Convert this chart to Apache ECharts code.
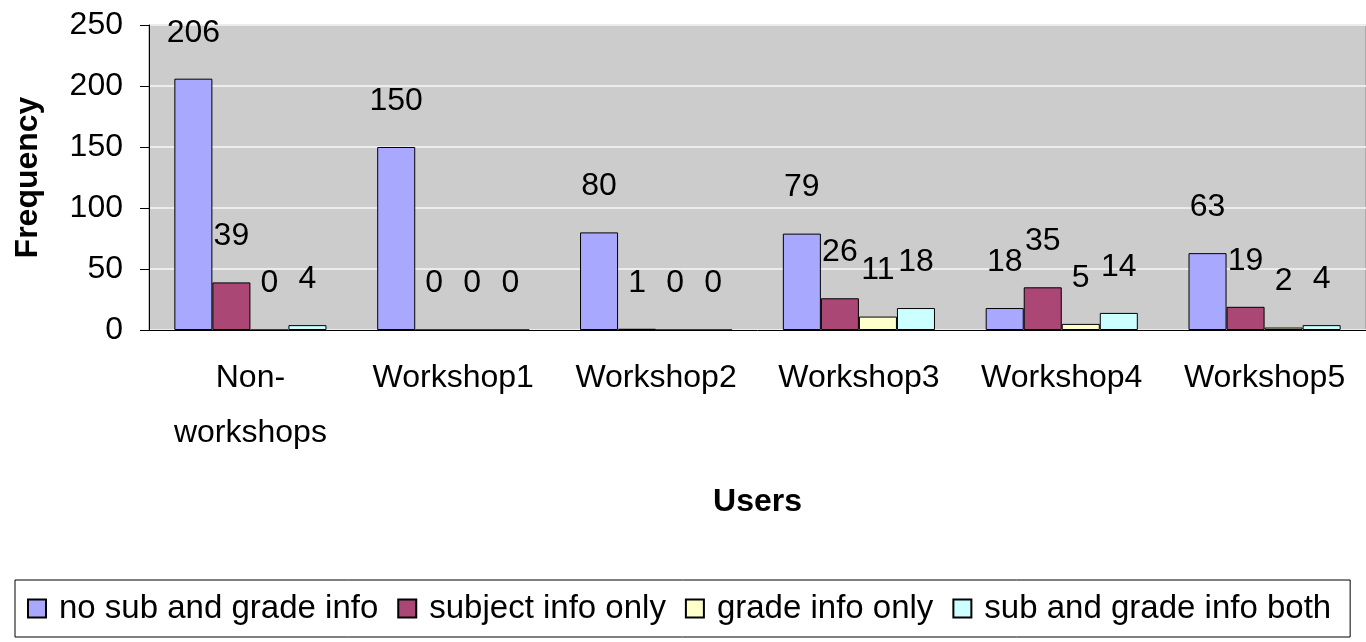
<!DOCTYPE html>
<html>
<head>
<meta charset="utf-8">
<style>
  html, body { margin: 0; padding: 0; background: #fff; }
  #main { width: 1366px; height: 642px; }
</style>
<script src="https://cdn.jsdelivr.net/npm/echarts@6/dist/echarts.min.js"></script>
</head>
<body>
<div id="main"></div>
<script>
var categories = ['Non-\nworkshops', 'Workshop1', 'Workshop2', 'Workshop3', 'Workshop4', 'Workshop5'];
var seriesNames = ['no sub and grade info', 'subject info only', 'grade info only', 'sub and grade info both'];
var noSubGrade = [206, 150, 80, 79, 18, 63];
var subjectOnly = [39, 0, 1, 26, 35, 19];
var gradeOnly = [0, 0, 0, 11, 5, 2];
var subAndGrade = [4, 0, 0, 18, 14, 4];
var yTicks = [0, 250, 50];   // min, max, interval

var colors = ['#a8a8ff', '#aa4775', '#ffffcc', '#ccffff'];
var font = "'Liberation Sans', Arial, sans-serif";

var chartDom = document.getElementById('main');
var myChart = echarts.init(chartDom);

function makeSeries(name, data) {
    return {
        name: name,
        type: 'bar',
        barGap: 0,
        barCategoryGap: '25%',
        itemStyle: { borderColor: '#000', borderWidth: 1 },
        label: {
            show: true,
            position: 'top',
            distance: 30,
            color: '#000',
            fontFamily: font,
            fontSize: 32
        },
        data: data
    };
}

var option = {
    animation: false,
    color: colors,
    textStyle: { fontFamily: font },
    grid: {
        left: 149,
        right: -6,
        top: 25,
        bottom: 312,
        show: true,
        backgroundColor: '#cccccc',
        borderColor: '#8c8c8c',
        borderWidth: 1
    },
    legend: {
        left: 15,
        top: 580,
        padding: [12, 19, 12, 12],
        itemGap: 19,
        icon: 'rect',
        itemWidth: 18,
        itemHeight: 18,
        borderColor: '#000',
        borderWidth: 1,
        textStyle: {
            fontFamily: font,
            fontSize: 33,
            color: '#000',
            padding: [0, 0, 0, 8]
        },
        data: seriesNames
    },
    xAxis: {
        type: 'category',
        data: categories,
        name: 'Users',
        nameLocation: 'middle',
        nameGap: 156,
        nameTextStyle: { fontFamily: font, fontSize: 32, fontWeight: 'bold', color: '#000' },
        axisLine: { lineStyle: { color: '#000', width: 1 } },
        axisTick: { inside: true, length: 10, interval: 0, lineStyle: { color: '#808080' } },
        axisLabel: {
            interval: 0,
            margin: 21,
            fontFamily: font,
            fontSize: 32,
            lineHeight: 55,
            color: '#000'
        }
    },
    yAxis: {
        type: 'value',
        min: yTicks[0],
        max: yTicks[1],
        interval: yTicks[2],
        name: 'Frequency',
        nameLocation: 'middle',
        nameGap: 105,
        nameTextStyle: { fontFamily: font, fontSize: 32, fontWeight: 'bold', color: '#000' },
        axisLine: { show: true, lineStyle: { color: '#000', width: 1 } },
        axisTick: { show: true, length: 9, lineStyle: { color: '#000' } },
        axisLabel: { margin: 26, fontFamily: font, fontSize: 32, color: '#000' },
        splitLine: { lineStyle: { color: '#ececec', width: 2 } }
    },
    series: [
        makeSeries(seriesNames[0], noSubGrade),
        makeSeries(seriesNames[1], subjectOnly),
        makeSeries(seriesNames[2], gradeOnly),
        makeSeries(seriesNames[3], subAndGrade)
    ]
};

option && myChart.setOption(option);
</script>
</body>
</html>
